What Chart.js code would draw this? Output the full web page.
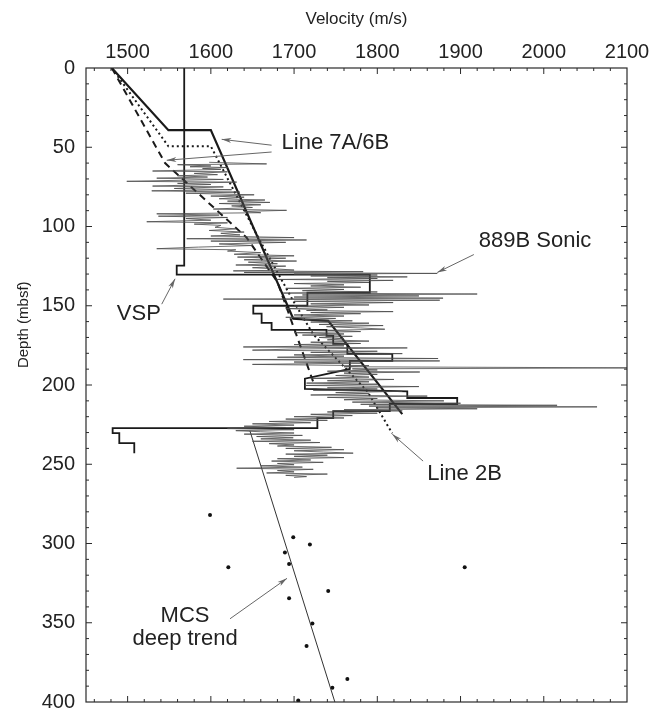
<!DOCTYPE html>
<html>
<head>
<meta charset="utf-8">
<script src="https://cdn.jsdelivr.net/npm/chart.js@4/dist/chart.umd.min.js"></script>
<style>
  html, body { margin: 0; padding: 0; background: #fff; }
  #wrap { width: 660px; height: 709px; }
</style>
</head>
<body>
<div id="wrap"><canvas id="c" width="660" height="709"></canvas></div>
<script>
// velocity (m/s) vs depth (mbsf)
const velTicks = [1500, 1600, 1700, 1800, 1900, 2000, 2100];
const depthTicks = [0, 50, 100, 150, 200, 250, 300, 350, 400];

// 889B sonic log
const sonicDepth = [
  59.5, 60.5, 61, 61.8, 62.3, 62.8, 63.5, 64, 65, 65.5, 66.5, 67.3, 68, 68.8, 69.5, 70.3,
  71.5, 72, 72.8, 73.5, 74.5, 75, 76, 76.8, 77.5, 78.3, 79, 80, 80.8, 81.5, 82.5, 83.3,
  84, 84.8, 85.5, 86.3, 87, 88, 89, 89.8, 90.5, 91.3, 92, 92.8, 93.5, 94.3, 95, 96,
  97, 97.7, 98.5, 99.3, 100.5, 101.5, 102.5, 103.5, 104.3, 105.3, 106, 107, 107.7, 108.5, 109.2, 110,
  111, 112, 113, 114, 114.7, 115.5, 116.5, 117.5, 118.5, 119.3, 120, 121, 121.8, 122.5, 123.5, 124.3,
  125, 126, 126.8, 127.5, 128, 128.5, 129, 129.6, 130, 130.6, 131.2, 131.8, 132.3, 132.8, 133.4, 134,
  134.6, 135.3, 136, 136.8, 137.5, 138.3, 139, 139.7, 140.5, 141.3, 142, 142.6, 143.2, 143.8, 144.5, 145.2,
  145.8, 146.5, 147.2, 148, 148.8, 149.5, 150.2, 151, 151.8, 152.6, 153, 153.7, 154.3, 155, 155.8, 156.5,
  157.3, 158, 158.8, 159.5, 160.3, 161, 161.8, 162.5, 163.2, 164, 164.8, 165.5, 166.3, 167, 167.8, 168.5,
  169.3, 170, 170.8, 171.5, 172.3, 173, 173.8, 174.5, 175.3, 176, 176.6, 177.3, 178, 178.7, 179.4, 180.2,
  181, 181.8, 182.5, 183.3, 184, 184.8, 185.5, 186.2, 187, 187.8, 188.5, 189.2, 189.8, 190.5, 191.3, 191.8,
  192.5, 193.3, 194, 195, 195.8, 196.5, 197.3, 198, 198.8, 199.5, 200.3, 201, 201.8, 202.5, 203.3, 204,
  204.8, 205.5, 206.3, 207, 207.8, 208.5, 209.3, 210, 210.8, 211.5, 212.2, 212.8, 213.3, 213.8, 214.4, 215,
  215.6, 216.3, 217, 217.8, 218.5, 219.3, 220, 220.8, 221.5, 222.3, 223, 223.8, 224.5, 225.3, 226, 226.8,
  227.5, 228.2, 228.8, 229.5, 230.3, 231, 231.8, 232.5, 233.3, 234, 234.8, 235.5, 236.3, 237, 237.8, 238.5,
  239.3, 240, 240.8, 241.5, 242.3, 243, 243.6, 244.3, 245, 245.8, 246.5, 247.3, 248, 248.8, 249.5, 250.3,
  251, 251.8, 252.5, 253.2, 254, 254.8, 255.5, 256.2, 257, 257.8, 258.3
];
const sonicVel = [
  1598, 1667, 1560, 1600, 1575, 1620, 1590, 1612, 1530, 1620, 1580, 1608, 1560, 1596, 1535, 1615,
  1499, 1631, 1560, 1600, 1530, 1615, 1556, 1625, 1529, 1635, 1570, 1652, 1600, 1640, 1610, 1665,
  1620, 1671, 1610, 1660, 1625, 1650, 1603, 1691, 1640, 1660, 1535, 1610, 1537, 1620, 1570, 1600,
  1523, 1620, 1580, 1612, 1605, 1630, 1598, 1640, 1612, 1635, 1600, 1700, 1571, 1715, 1600, 1690,
  1610, 1650, 1585, 1535, 1630, 1620, 1660, 1628, 1700, 1632, 1690, 1640, 1703, 1645, 1680, 1630,
  1690, 1650, 1680, 1700, 1627, 1783, 1640, 1872, 1700, 1800, 1720, 1836, 1740, 1800, 1679, 1819,
  1740, 1790, 1700, 1760, 1720, 1780, 1690, 1760, 1710, 1800, 1687, 1920, 1710, 1850, 1700, 1879,
  1615, 1875, 1700, 1819, 1720, 1790, 1700, 1760, 1690, 1740, 1715, 1819, 1720, 1780, 1700, 1760,
  1690, 1750, 1710, 1770, 1720, 1790, 1730, 1807, 1739, 1780, 1809, 1740, 1780, 1700, 1760, 1710,
  1770, 1730, 1760, 1740, 1790, 1720, 1780, 1700, 1760, 1639, 1836, 1700, 1650, 1800, 1720, 1830,
  1700, 1760, 1680, 1873, 1639, 1875, 1700, 1780, 1650, 1790, 1760, 2110, 1770, 1800, 1740, 1851,
  1760, 1800, 1750, 1790, 1720, 1820, 1740, 1790, 1715, 1800, 1713, 1850, 1740, 1800, 1723, 1830,
  1750, 1790, 1720, 1860, 1740, 1800, 1760, 1880, 1770, 1900, 1780, 2016, 1790, 2064, 1800, 1920,
  1760, 1830, 1740, 1800, 1720, 1770, 1700, 1760, 1690, 1740, 1670, 1720, 1650, 1700, 1640, 1690,
  1620, 1700, 1630, 1660, 1700, 1640, 1710, 1655, 1699, 1660, 1720, 1650, 1731, 1670, 1700, 1680,
  1745, 1690, 1760, 1700, 1735, 1771, 1690, 1740, 1700, 1760, 1680, 1720, 1673, 1735, 1680, 1700,
  1660, 1710, 1631, 1723, 1680, 1700, 1667, 1740, 1690, 1715, 1700
];

// VSP interval velocity staircase
const vspDepth = [
  0, 124.7, 124.7, 130.4, 130.4, 141.8, 141.8, 150, 150, 155, 155, 160.8, 160.8, 165.2,
  165.2, 169, 169, 174, 174, 180.4, 180.4, 184.8, 184.8, 189.9, 196, 202.5, 204, 208.2,
  208.2, 212, 212, 216.5, 216.5, 220.9, 220.9, 227.2, 227.2, 230.4, 230.4, 236.7, 236.7, 243
];
const vspVel = [
  1568, 1568, 1559, 1559, 1791, 1791, 1716, 1716, 1651, 1651, 1661, 1661, 1673, 1673,
  1739, 1739, 1747, 1747, 1764, 1764, 1818, 1818, 1767, 1767, 1713, 1713, 1836, 1836,
  1896, 1896, 1815, 1815, 1747, 1747, 1728, 1728, 1482, 1482, 1490, 1490, 1508, 1508
];

// Line 7A/6B and Line 2B models
const solidDepth = [0, 39.2, 39.2, 158.2, 159.5, 218.4];
const solidVel = [1481, 1549, 1600, 1699, 1741, 1830];
const dottedDepth = [0, 49.4, 49.4, 105, 147, 168, 204, 230.5];
const dottedVel = [1481, 1549, 1600, 1655, 1699, 1723, 1788, 1818];
const dashedDepth = [0, 60, 107, 135, 198];
const dashedVel = [1481, 1545, 1643, 1680, 1723];

// MCS deep trend and picks
const mcsDepth = [229, 400];
const mcsVel = [1647, 1749];
const pickDepth = [282, 296, 300.6, 305.6, 313, 315, 315, 330, 334.5, 350.5, 364.6, 385.5, 391, 399];
const pickVel = [1599, 1699, 1719, 1689, 1694, 1621, 1905, 1741, 1694, 1722, 1715, 1764, 1746, 1705];

// labels: text anchor and arrow tail/head in data units
const noteText = [['Line 7A/6B'], ['889B Sonic'], ['VSP'], ['Line 2B'], ['MCS', 'deep trend']];
const noteAt = [[1685, 47.5, 'left'], [1922, 109, 'left'], [1487, 155, 'left'], [1860, 256, 'left'], [1569, 346, 'center']];
const arrows = [
  [1673, 48.7, 1613, 45],
  [1673, 53, 1547, 58.2],
  [1916, 117.7, 1872, 129],
  [1541, 149, 1557, 133],
  [1855, 248, 1818, 231],
  [1623, 347.5, 1691.5, 322]
];

const FONT = '"Liberation Sans", Arial, sans-serif';
const pts = (xs, ys) => xs.map((x, i) => ({ x: x, y: ys[i] }));

function line(data, opts) {
  return Object.assign({
    data: data, showLine: true, fill: false, pointRadius: 0,
    borderColor: '#1a1a1a', borderWidth: 2, tension: 0
  }, opts);
}

const frameAndNotes = {
  id: 'frameAndNotes',
  afterDatasetsDraw(chart) {
    const ctx = chart.ctx;
    const a = chart.chartArea;
    const xs = chart.scales.x, ys = chart.scales.y;
    ctx.save();
    ctx.strokeStyle = '#2a2a2a';
    ctx.lineWidth = 1.2;
    ctx.strokeRect(a.left, a.top, a.right - a.left, a.bottom - a.top);

    // inward ticks on all four sides
    ctx.lineWidth = 1;
    for (let v = 1460; v < 2100; v += 20) {
      const px = xs.getPixelForValue(v);
      const len = v % 100 === 0 ? 6 : 3;
      ctx.beginPath();
      ctx.moveTo(px, a.top); ctx.lineTo(px, a.top + len);
      ctx.moveTo(px, a.bottom); ctx.lineTo(px, a.bottom - len);
      ctx.stroke();
    }
    for (let d = 10; d < 400; d += 10) {
      const py = ys.getPixelForValue(d);
      const len = d % 50 === 0 ? 6 : 3;
      ctx.beginPath();
      ctx.moveTo(a.left, py); ctx.lineTo(a.left + len, py);
      ctx.moveTo(a.right, py); ctx.lineTo(a.right - len, py);
      ctx.stroke();
    }

    // axis titles
    ctx.fillStyle = '#222';
    ctx.font = '17px ' + FONT;
    ctx.textAlign = 'center';
    ctx.textBaseline = 'middle';
    ctx.fillText('Velocity (m/s)', (a.left + a.right) / 2, 19);
    ctx.save();
    ctx.translate(24, ys.getPixelForValue(162));
    ctx.rotate(-Math.PI / 2);
    ctx.font = '15px ' + FONT;
    ctx.fillText('Depth (mbsf)', 0, 0);
    ctx.restore();

    // arrows
    ctx.strokeStyle = '#666';
    ctx.fillStyle = '#666';
    ctx.lineWidth = 1;
    arrows.forEach(r => {
      const x0 = xs.getPixelForValue(r[0]), y0 = ys.getPixelForValue(r[1]);
      const x1 = xs.getPixelForValue(r[2]), y1 = ys.getPixelForValue(r[3]);
      const ang = Math.atan2(y1 - y0, x1 - x0);
      ctx.beginPath();
      ctx.moveTo(x0, y0); ctx.lineTo(x1, y1);
      ctx.stroke();
      ctx.beginPath();
      ctx.moveTo(x1, y1);
      ctx.lineTo(x1 - 10 * Math.cos(ang - 0.25), y1 - 10 * Math.sin(ang - 0.25));
      ctx.lineTo(x1 - 7 * Math.cos(ang), y1 - 7 * Math.sin(ang));
      ctx.lineTo(x1 - 10 * Math.cos(ang + 0.25), y1 - 10 * Math.sin(ang + 0.25));
      ctx.closePath();
      ctx.fill();
    });

    // labels
    ctx.fillStyle = '#222';
    ctx.font = '22px ' + FONT;
    noteText.forEach((lines, i) => {
      const at = noteAt[i];
      ctx.textAlign = at[2];
      const x = xs.getPixelForValue(at[0]);
      const y = ys.getPixelForValue(at[1]);
      lines.forEach((t, k) => ctx.fillText(t, x, y + k * 23));
    });
    ctx.restore();
  }
};

new Chart(document.getElementById('c'), {
  type: 'scatter',
  data: {
    datasets: [
      line(pts(sonicVel, sonicDepth), { borderColor: '#4a4a4a', borderWidth: 0.8 }),
      line(pts(vspVel, vspDepth), { borderWidth: 1.8 }),
      line(pts(solidVel, solidDepth), { borderWidth: 2.2 }),
      line(pts(dottedVel, dottedDepth), { borderWidth: 2, borderDash: [2, 3] }),
      line(pts(dashedVel, dashedDepth), { borderWidth: 2, borderDash: [7, 5] }),
      line(pts(mcsVel, mcsDepth), { borderWidth: 1, borderColor: '#333' }),
      { data: pts(pickVel, pickDepth), showLine: false, pointRadius: 2, pointBackgroundColor: '#111', pointBorderWidth: 0 }
    ]
  },
  options: {
    responsive: false,
    animation: false,
    events: [],
    layout: { padding: { left: 0, right: 33, top: 0, bottom: 7 } },
    plugins: { legend: { display: false }, tooltip: { enabled: false } },
    scales: {
      x: {
        type: 'linear', position: 'top', min: 1450, max: 2100,
        grid: { display: false, drawTicks: false },
        border: { display: false },
        afterFit: s => { s.height = 68; },
        afterBuildTicks: s => { s.ticks = velTicks.map(v => ({ value: v })); },
        ticks: {
          autoSkip: false, maxRotation: 0, padding: 4,
          color: '#222', font: { family: FONT, size: 20 },
          callback: v => String(v)
        }
      },
      y: {
        type: 'linear', reverse: true, min: 0, max: 400,
        grid: { display: false, drawTicks: false },
        border: { display: false },
        afterFit: s => { s.width = 86; s.paddingTop = 0; s.paddingBottom = 0; },
        afterBuildTicks: s => { s.ticks = depthTicks.map(v => ({ value: v })); },
        ticks: {
          autoSkip: false, padding: 11,
          color: '#222', font: { family: FONT, size: 20 },
          callback: v => String(v)
        }
      }
    }
  },
  plugins: [frameAndNotes]
});
</script>
</body>
</html>
